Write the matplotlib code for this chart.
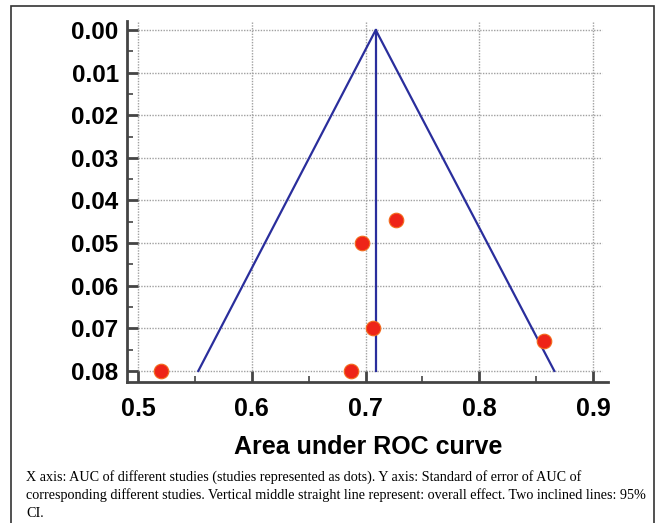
import matplotlib
matplotlib.use('Agg')
import matplotlib.pyplot as plt
from matplotlib.ticker import MultipleLocator, FormatStrFormatter
from matplotlib.patches import Rectangle

# studies: AUC and its standard error
auc = [0.52, 0.687, 0.697, 0.727, 0.707, 0.857]
se = [0.080, 0.080, 0.050, 0.0447, 0.070, 0.073]

# overall effect and 95% CI funnel (apex, lower end, upper end)
pooled_auc = 0.709
funnel_x = [0.553, 0.709, 0.866]
funnel_y = [0.080, 0.000, 0.080]
se_max = 0.08

x_ticks = [0.5, 0.6, 0.7, 0.8, 0.9]
y_ticks = [0.00, 0.01, 0.02, 0.03, 0.04, 0.05, 0.06, 0.07, 0.08]

caption = ("X axis: AUC of different studies (studies represented as dots). Y axis: Standard of error of AUC of\n"
           "corresponding different studies. Vertical middle straight line represent: overall effect. Two inclined lines: 95%\n"
           "CI.")

plt.rcParams['font.family'] = ['Liberation Sans', 'DejaVu Sans']

fig = plt.figure(figsize=(6.57, 5.23), dpi=100)
ax = fig.add_axes([0.1933, 0.2696, 0.7321, 0.6902])

# dotted grid, only over the data range
ax.hlines(y_ticks, 0.5, 0.908, colors='#a0a0a0', linestyles=(0, (1, 1)), linewidth=1, zorder=0)
ax.vlines(x_ticks, -0.0019, 0.08, colors='#a0a0a0', linestyles=(0, (1, 1)), linewidth=1, zorder=0)

ax.plot(funnel_x, funnel_y, '-', color='#2a2e9c', linewidth=1.6, zorder=2)
ax.plot([pooled_auc, pooled_auc], [0, se_max], '-', color='#2a2e9c', linewidth=1.6, zorder=2)
ax.scatter(auc, se, s=110, color='#ee2418', edgecolors='#f36b1c', linewidths=0.8, zorder=3)

ax.set_xlim(0.4903, 0.9132)
ax.set_ylim(0.0826, -0.0021)

ax.set_xticks(x_ticks)
ax.set_yticks(y_ticks)
ax.xaxis.set_minor_locator(MultipleLocator(0.05))
ax.yaxis.set_minor_locator(MultipleLocator(0.005))
ax.xaxis.set_major_formatter(FormatStrFormatter('%.1f'))
ax.yaxis.set_major_formatter(FormatStrFormatter('%.2f'))

for s in ['top', 'right']:
    ax.spines[s].set_visible(False)
for s in ['left', 'bottom']:
    ax.spines[s].set_color('#444444')
    ax.spines[s].set_linewidth(2)

ax.tick_params(which='major', direction='in', length=8, width=2, color='#444444')
ax.tick_params(which='minor', direction='in', length=4, width=1.2, color='#444444')
ax.tick_params(axis='y', which='major', pad=6, labelsize=17.5)
ax.tick_params(axis='x', which='major', pad=11, labelsize=18)
for lab in ax.get_xticklabels() + ax.get_yticklabels():
    lab.set_fontweight('bold')

ax.set_xlabel('Area under ROC curve', fontsize=18, fontweight='bold')
ax.xaxis.label.set_va('baseline')
ax.xaxis.set_label_coords(0.501, -0.199)

fig.text(0.0396, 0.102, caption, fontsize=10.2, family=['Liberation Serif', 'DejaVu Serif'],
         va='top', ha='left', linespacing=1.46)

fig.patches.append(Rectangle((11 / 657, -0.02), 643 / 657, 1.02 - 6 / 523,
                             transform=fig.transFigure, fill=False,
                             edgecolor='#333333', linewidth=1.2))

fig.savefig('out.png', dpi=100)
